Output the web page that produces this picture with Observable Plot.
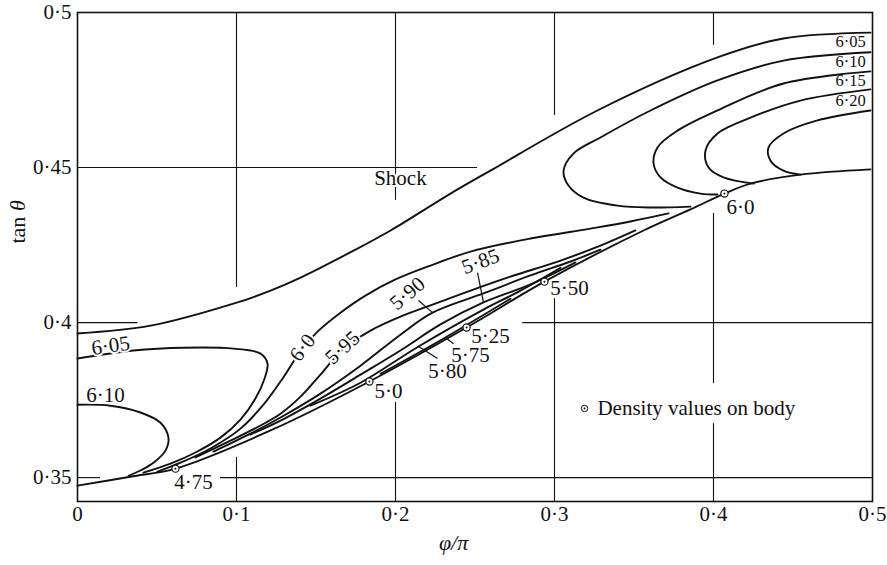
<!DOCTYPE html>
<html><head><meta charset="utf-8">
<script src="https://cdn.jsdelivr.net/npm/d3@7"></script>
<script src="https://cdn.jsdelivr.net/npm/@observablehq/plot@0.6"></script>
<style>
body{margin:0;background:#fff}
#chart svg{font-family:"Liberation Serif","DejaVu Serif",serif;background:#fff}
</style>
</head><body><div id="chart"></div>
<script>
// ---- data (x = phi/pi, y = tan theta) ----
const xTicks = [0, 0.1, 0.2, 0.3, 0.4, 0.5];
const yTicks = [0.35, 0.4, 0.45, 0.5];

const shock = [[0,.3965],[.0459,.3990],[.1006,.4065],[.1214,.4103],[.1403,.4145],[.1736,.4232],[.1969,.4297],[.2346,.4416],[.2597,.4490],[.3270,.4684],[.4025,.4855],[.4440,.4916],[.4987,.4935]];
const body = [[0,.3474],[.0333,.3503],[.0616,.3529],[.1214,.3652],[.1836,.3810],[.2447,.3984],[.2937,.4132],[.3560,.4297],[.3855,.4365],[.4069,.4416],[.4233,.4448],[.4547,.4477],[.4987,.4494]];

const c605L = [[0,.3884],[.0352,.3910],[.0667,.3919],[.0981,.3916],[.1151,.3900],[.1195,.3868],[.1176,.3819],[.1119,.3755],[.1025,.3687],[.0899,.3629],[.0742,.3581],[.0585,.3545],[.0415,.3516]];
const c610L = [[0,.3735],[.0208,.3732],[.0396,.3710],[.0522,.3677],[.0572,.3629],[.0553,.3587],[.0478,.3548],[.0396,.3523],[.0321,.3506]];

const c605R = [[.4987,.4872],[.4440,.4845],[.4025,.4781],[.3604,.4684],[.3289,.4597],[.3119,.4545],[.3057,.4490],[.3088,.4442],[.3182,.4403],[.3396,.4377],[.3604,.4371],[.3855,.4374]];
const c610R = [[.4987,.4810],[.4440,.4771],[.4025,.4684],[.3774,.4619],[.3648,.4565],[.3623,.4513],[.3667,.4468],[.3774,.4435],[.3918,.4416],[.4025,.4413]];
const c615R = [[.4987,.4752],[.4547,.4716],[.4233,.4661],[.4025,.4610],[.3950,.4555],[.3969,.4500],[.4063,.4468],[.4252,.4448]];
const c620R = [[.4987,.4684],[.4654,.4652],[.4440,.4610],[.4346,.4565],[.4358,.4523],[.4440,.4490],[.4547,.4477]];

const c600 = [[.0503,.3519],[.0648,.3548],[.0836,.3594],[.1025,.3658],[.1164,.3732],[.1289,.3819],[.1409,.3913],[.1516,.3974],[.1654,.4032],[.1811,.4087],[.2000,.4139],[.2220,.4184],[.2472,.4229],[.2849,.4271],[.3226,.4303],[.3478,.4326],[.3717,.4352]];
const c595 = [[.0742,.3565],[.0962,.3619],[.1151,.3668],[.1277,.3706],[.1403,.3761],[.1528,.3832],[.1667,.3913],[.1843,.3974],[.2031,.4019],[.2233,.4058],[.2472,.4103],[.2723,.4148],[.3038,.4200],[.3289,.4248],[.3509,.4297]];
const c590 = [[.0855,.3584],[.1088,.3642],[.1277,.3694],[.1528,.3771],[.1780,.3861],[.2031,.3961],[.2233,.4032],[.2553,.4094],[.2849,.4152],[.3101,.4197],[.3289,.4235]];
const c585 = [[.1088,.3639],[.1277,.3684],[.1528,.3755],[.1780,.3832],[.2031,.3910],[.2283,.3994],[.2553,.4065],[.2849,.4123],[.3132,.4194]];
const c580 = [[.1465,.3732],[.1780,.3806],[.2145,.3923],[.2553,.4042],[.2786,.4103],[.3038,.4177]];
const c575 = [[.1906,.3835],[.2314,.3952],[.2723,.4077]];

const curves = [
  {id:"shock", pts:shock},{id:"body", pts:body},
  {id:"605L", pts:c605L},{id:"610L", pts:c610L},
  {id:"605R", pts:c605R},{id:"610R", pts:c610R},{id:"615R", pts:c615R},{id:"620R", pts:c620R},
  {id:"600", pts:c600},{id:"595", pts:c595},{id:"590", pts:c590},{id:"585", pts:c585},
  {id:"580", pts:c580},{id:"575", pts:c575}
];
const lineData = curves.flatMap(c => c.pts.map(([x,y]) => ({id:c.id, x, y})));

// density values on body
const bodyPts = [[.0616,.3529],[.1836,.3810],[.2447,.3984],[.2937,.4132],[.4069,.4416]];
const bodyLabels = [
  {x:.0730, y:.3484, t:"4·75"},{x:.1956, y:.3777, t:"5·0"},{x:.2597, y:.3955, t:"5·25"},
  {x:.3094, y:.4110, t:"5·50"},{x:.4170, y:.4371, t:"6·0"}
];
const plainLabels = [
  {x:.2031, y:.4465, t:"Shock", a:"start", r:0},
  {x:.0208, y:.3926, t:"6·05", a:"middle", r:-8},
  {x:.0176, y:.3765, t:"6·10", a:"middle", r:0},
  {x:.1415, y:.3919, t:"6·0", a:"middle", r:-52},
  {x:.1667, y:.3919, t:"5·95", a:"middle", r:-42},
  {x:.2075, y:.4094, t:"5·90", a:"middle", r:-40},
  {x:.2535, y:.4197, t:"5·85", a:"middle", r:-20},
  {x:.2472, y:.3894, t:"5·75", a:"middle", r:0},
  {x:.2327, y:.3842, t:"5·80", a:"middle", r:0}
];
const edgeLabels = [
  {x:.4862, y:.4905, t:"6·05"},{x:.4862, y:.4842, t:"6·10"},
  {x:.4862, y:.4780, t:"6·15"},{x:.4862, y:.4716, t:"6·20"}
];
const leaders = [
  {x1:.2516,y1:.4161,x2:.2553,y2:.4065},
  {x1:.2145,y1:.4071,x2:.2233,y2:.4032},
  {x1:.2365,y1:.3932,x2:.2314,y2:.3952},
  {x1:.2264,y1:.3884,x2:.2145,y2:.3923}
];

// partial grid segments (the printed grid is interrupted around curves & text)
const gridH = [
  {y:.45, x1:0, x2:.2516},
  {y:.40, x1:0, x2:.038},{y:.40, x1:.28, x2:.5},
  {y:.35, x1:0, x2:.0145},{y:.35, x1:.09, x2:.5}
];
const gridV = [
  {x:.1, y1:.5, y2:.4113},{x:.1, y1:.3565, y2:.3423},
  {x:.2, y1:.5, y2:.4394},{x:.2, y1:.3742, y2:.3423},
  {x:.3, y1:.5, y2:.4668},{x:.3, y1:.4077, y2:.3423},
  {x:.4, y1:.5, y2:.4894},{x:.4, y1:.4352, y2:.3803},{x:.4, y1:.3674, y2:.3423}
];
const legendText = "Density values on body";
const legendPos = [.3189, .3723];

const fmt = d => String(d).replace(".", "·");
const FS = 21;
const halo = {stroke:"#fff", strokeWidth:4, paintOrder:"stroke", fill:"#111"};

const chart = Plot.plot({
  width: 887, height: 565,
  marginLeft: 77, marginRight: 15, marginTop: 12, marginBottom: 64,
  style: {fontFamily: "Liberation Serif, serif", fontSize: FS + "px", color: "#111", background: "#fff"},
  x: {domain: [0, 0.5]},
  y: {domain: [0.3423, 0.5]},
  marks: [
    Plot.ruleY(gridH, {y:"y", x1:"x1", x2:"x2", stroke:"#111", strokeWidth:1.1}),
    Plot.ruleX(gridV, {x:"x", y1:"y1", y2:"y2", stroke:"#111", strokeWidth:1.1}),
    Plot.frame({stroke:"#111", strokeWidth:1.6}),
    Plot.line(lineData, {x:"x", y:"y", z:"id", curve:"catmull-rom", stroke:"#111", strokeWidth:1.9}),
    Plot.link(leaders, {x1:"x1", y1:"y1", x2:"x2", y2:"y2", stroke:"#111", strokeWidth:1.2}),
    Plot.dot(bodyPts, {x:d=>d[0], y:d=>d[1], r:3.6, stroke:"#111", fill:"#fff", strokeWidth:1.2}),
    Plot.dot(bodyPts, {x:d=>d[0], y:d=>d[1], r:1, fill:"#111"}),
    Plot.text(bodyLabels, {x:"x", y:"y", text:"t", fontSize:FS, ...halo}),
    Plot.text(plainLabels, {x:"x", y:"y", text:"t", textAnchor:"a", rotate:"r", fontSize:FS, ...halo}),
    Plot.text(edgeLabels, {x:"x", y:"y", text:"t", fontSize:16.5, fill:"#111"}),
    Plot.dot([legendPos], {x:d=>d[0], y:d=>d[1], r:3.2, stroke:"#111", fill:"#fff", strokeWidth:1}),
    Plot.dot([legendPos], {x:d=>d[0], y:d=>d[1], r:0.9, fill:"#111"}),
    Plot.text([legendText], {x:legendPos[0] + .0081, y:legendPos[1], text:d=>d, textAnchor:"start", fontSize:FS, ...halo}),
    Plot.axisX(xTicks, {tickSize:0, tickPadding:5, tickFormat:fmt, label:null, fontSize:FS}),
    Plot.axisY(yTicks, {tickSize:0, tickPadding:6, tickFormat:fmt, label:null, fontSize:FS}),
    Plot.text(["φ/π"], {x:.2365, frameAnchor:"bottom", dy:48, text:d=>d, fontStyle:"italic", fontSize:FS+1, fill:"#111"}),
    Plot.text(["tan θ"], {y:.4255, frameAnchor:"left", dx:-60, rotate:-90, text:d=>d, fontSize:FS+1, fill:"#111", className:"ylab"})
  ]
});
document.getElementById("chart").appendChild(chart);
const yl = chart.querySelector(".ylab text");
if (yl) { yl.textContent = "";
  const a = document.createElementNS("http://www.w3.org/2000/svg","tspan"); a.textContent = "tan ";
  const b = document.createElementNS("http://www.w3.org/2000/svg","tspan"); b.textContent = "θ"; b.setAttribute("font-style","italic");
  yl.appendChild(a); yl.appendChild(b); }
</script>
</body></html>
